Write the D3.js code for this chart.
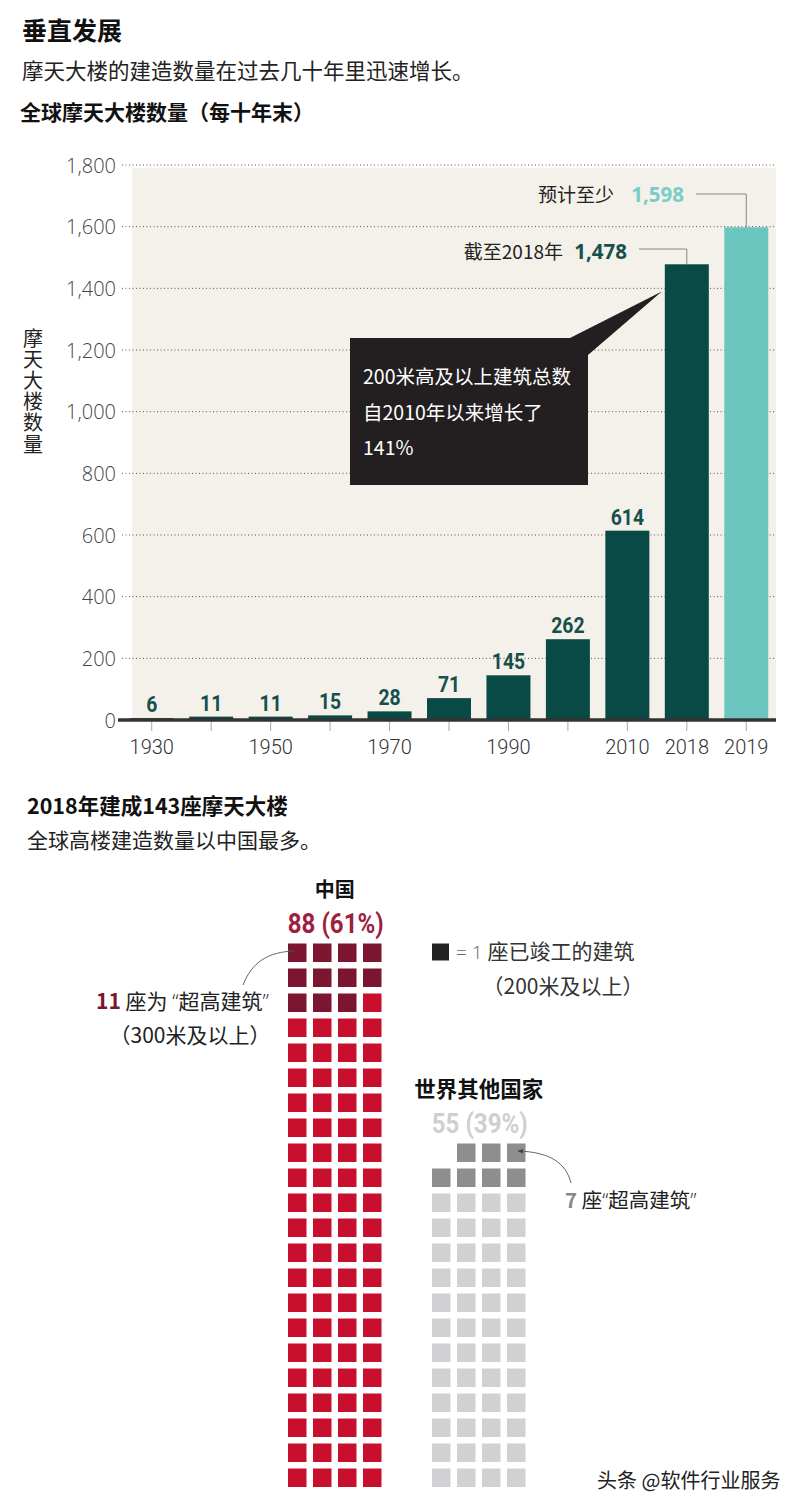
<!DOCTYPE html>
<html><head><meta charset="utf-8">
<script src="https://cdn.jsdelivr.net/npm/d3@7"></script>
<style>
body{margin:0;background:#fff;}
svg{display:block;}
</style>
</head><body>
<script>
// ---------- data ----------
const years = ["1930","1940","1950","1960","1970","1980","1990","2000","2010","2018","2019"];
const counts = [6,11,11,15,28,71,145,262,614,1478,1598];
const xTickLabels = ["1930","","1950","","1970","","1990","","2010","2018","2019"];
const yTicks = [0,200,400,600,800,1000,1200,1400,1600,1800];
const groups = ["中国","世界其他国家"];
const groupTotals = [88,55];
const groupSupertall = [11,7];
const groupShares = ["61%","39%"];

const W = 800, H = 1508;
const svg = d3.select("body").append("svg").attr("width", W).attr("height", H);
const F = "'Noto Sans CJK SC','Noto Sans',sans-serif";
const FN = "Roboto,'Noto Sans',sans-serif";
const FO = "'Open Sans','Noto Sans',sans-serif";

// helper for horizontally condensed text
function condText(parent, x, y, str, opts){
  const g = parent.append("g").attr("transform",`translate(${x},${y})`);
  return g.append("text").attr("transform",`scale(${opts.sx||0.85},1)`)
    .attr("text-anchor",opts.anchor||"middle").attr("font-family",FN)
    .attr("font-weight",opts.weight||700).attr("font-size",opts.size).attr("fill",opts.fill).text(str);
}

// ---------- titles ----------
svg.append("text").attr("x",22).attr("y",40).attr("font-family",F).attr("font-weight",700).attr("font-size",25).attr("fill","#111").text("垂直发展");
svg.append("text").attr("x",22).attr("y",79).attr("font-family",F).attr("font-size",21.5).attr("fill","#222").text("摩天大楼的建造数量在过去几十年里迅速增长。");
svg.append("text").attr("x",20).attr("y",120).attr("font-family",F).attr("font-weight",700).attr("font-size",21).attr("fill","#111").text("全球摩天大楼数量（每十年末）");

// ---------- bar chart ----------
const x = d3.scaleBand().domain(years).range([122,776]).paddingInner(0.26).paddingOuter(0.13);
const y = d3.scaleLinear().domain([0,1800]).range([720,165]);

svg.append("rect").attr("x",132).attr("y",y(1800)+3).attr("width",776-132).attr("height",y(0)-y(1800)-3).attr("fill","#f4f0ea");

// gridlines + y labels
const yAxis = d3.axisLeft(y).tickValues(yTicks).tickSize(0).tickPadding(0).tickFormat(d3.format(","));
const gy = svg.append("g").attr("transform","translate(116,0)").call(yAxis);
gy.select(".domain").remove();
gy.selectAll("text").attr("font-family",FO).attr("font-weight",300).attr("font-size",20).attr("fill","#444").attr("dy","0.36em");
svg.append("g").selectAll("line").data(yTicks.filter(d=>d>0)).join("line")
  .attr("x1",122).attr("x2",776).attr("y1",d=>y(d)).attr("y2",d=>y(d))
  .attr("stroke","#555").attr("stroke-width",1).attr("stroke-dasharray","1,2.5");

// y axis title (vertical)
svg.append("text").attr("x",33).attr("y",328).attr("writing-mode","vertical-rl")
  .attr("font-family",F).attr("font-size",20).attr("letter-spacing",1.2).attr("fill","#222").text("摩天大楼数量");

// bars
svg.append("g").selectAll("rect").data(years).join("rect")
  .attr("x",d=>x(d)).attr("width",x.bandwidth())
  .attr("y",(d,i)=>y(counts[i])).attr("height",(d,i)=>y(0)-y(counts[i]))
  .attr("fill",(d,i)=>d==="2019"?"#6cc6c0":"#0a4a46");

// value labels
const vl = svg.append("g");
years.slice(0,9).forEach((d,i)=>{
  condText(vl, x(d)+x.bandwidth()/2, y(counts[i])-6, counts[i], {size:22, sx:0.88, fill:"#16504c"});
});

// x axis
const xAxis = d3.axisBottom(x).tickSize(10).tickPadding(9).tickFormat((d,i)=>xTickLabels[i]);
const gx = svg.append("g").attr("transform","translate(0,721)").call(xAxis);
gx.select(".domain").remove();
gx.selectAll(".tick line").attr("stroke","#aaa");
gx.selectAll("text").attr("font-family",FN).attr("font-weight",300).attr("font-size",20).attr("fill","#333");
svg.append("line").attr("x1",118).attr("x2",776).attr("y1",y(0)).attr("y2",y(0)).attr("stroke","#333").attr("stroke-width",3.5);

// annotations 2019 / 2018
const cx = d => x(d)+x.bandwidth()/2;
svg.append("path").attr("d",`M696,194H${cx("2019")}V${y(1598)}`).attr("fill","none").attr("stroke","#888").attr("stroke-width",1);
svg.append("path").attr("d",`M639,249H${cx("2018")}V${y(1478)}`).attr("fill","none").attr("stroke","#888").attr("stroke-width",1);
svg.append("text").attr("x",614).attr("y",202).attr("text-anchor","end").attr("font-family",F).attr("font-size",19).attr("fill","#222").text("预计至少");
svg.append("text").attr("x",684).attr("y",202).attr("text-anchor","end").attr("font-family",FO).attr("font-weight",700).attr("font-size",20.5).attr("fill","#7accc6").text(d3.format(",")(counts[10]));
svg.append("text").attr("x",563).attr("y",259).attr("text-anchor","end").attr("font-family",F).attr("font-size",19).attr("fill","#222").text("截至2018年");
svg.append("text").attr("x",627).attr("y",259).attr("text-anchor","end").attr("font-family",FO).attr("font-weight",700).attr("font-size",20.5).attr("fill","#16504c").text(d3.format(",")(counts[9]));

// callout box
const tipX = x("2018")-3, tipY = y(1390);
svg.append("path").attr("d",`M350,338H570L${tipX},${tipY}L588,355V485H350Z`).attr("fill","#231f20");
const boxLines = ["200米高及以上建筑总数","自2010年以来增长了","141%"];
svg.append("g").selectAll("text").data(boxLines).join("text")
  .attr("x",363).attr("y",(d,i)=>384+i*35.5).attr("font-family",F).attr("font-size",19.5).attr("fill","#fff").text(d=>d);

// ---------- waffle section ----------
svg.append("text").attr("x",27).attr("y",814).attr("font-family",F).attr("font-weight",700).attr("font-size",21.5).attr("fill","#111").text("2018年建成143座摩天大楼");
svg.append("text").attr("x",27).attr("y",848).attr("font-family",F).attr("font-size",21).attr("fill","#222").text("全球高楼建造数量以中国最多。");

const cols = 4, step = 25, sq = 18.5, bottomRow = 1468.5;
const gridLeft = [288, 432];
const lightCol = ["#c8102e","#d1d1d3"];
const darkCol = ["#7c1530","#8e8e8e"];
groups.forEach((g,gi)=>{
  const n = groupTotals[gi];
  const rows = Math.ceil(n/cols);
  const offset = rows*cols - n; // empty cells at the left of the top row
  const cells = d3.range(n).map(i=>{
    const pos = i + offset;
    return {r: Math.floor(pos/cols), c: pos%cols, i};
  });
  const topY = bottomRow - (rows-1)*step;
  svg.append("g").selectAll("rect").data(cells).join("rect")
    .attr("x",d=>gridLeft[gi]+d.c*step).attr("y",d=>topY+d.r*step)
    .attr("width",sq).attr("height",sq)
    .attr("fill",d=>d.i<groupSupertall[gi]?darkCol[gi]:lightCol[gi]);
  const mid = gridLeft[gi] + (3*step+sq)/2;
  svg.append("text").attr("x",mid).attr("y",topY-47).attr("text-anchor","middle").attr("font-family",F).attr("font-weight",700).attr("font-size",gi===0?20:21.5).attr("fill","#111").text(g);
  condText(svg, mid+1, topY-11, `${n} (${groupShares[gi]})`, {size:28, sx:0.86, fill: gi===0?"#9e1f40":"#cfcfd1"});
});

// legend
svg.append("rect").attr("x",432).attr("y",943.5).attr("width",17).attr("height",17).attr("fill","#222");
svg.append("text").attr("x",456).attr("y",959).attr("font-family",F).attr("font-size",21).attr("fill","#333")
  .call(t=>{t.append("tspan").attr("fill","#666").attr("font-size",19).attr("font-family",FO).attr("font-weight",300).text("= 1 "); t.append("tspan").text("座已竣工的建筑");});
svg.append("text").attr("x",563).attr("y",994).attr("text-anchor","middle").attr("font-family",F).attr("font-size",21).attr("fill","#333").text("（200米及以上）");

// China supertall annotation
svg.append("text").attr("x",96).attr("y",1009).attr("font-family",F).attr("font-size",21).attr("fill","#222")
  .call(t=>{
    t.append("tspan").attr("font-weight",700).attr("fill","#7c1530").text(groupSupertall[0]);
    t.append("tspan").text(" 座为 ");
    t.append("tspan").attr("font-family",FO).attr("font-weight",300).text("“");
    t.append("tspan").text("超高建筑");
    t.append("tspan").attr("font-family",FO).attr("font-weight",300).text("”");
  });
svg.append("text").attr("x",190).attr("y",1043).attr("text-anchor","middle").attr("font-family",F).attr("font-size",21).attr("fill","#222").text("（300米及以上）");

svg.append("defs").append("marker").attr("id","ah").attr("viewBox","0 0 10 10").attr("refX",9).attr("refY",5)
  .attr("markerWidth",6).attr("markerHeight",6).attr("orient","auto")
  .append("path").attr("d","M0,1L10,5L0,9Z").attr("fill","#444");
svg.append("path").attr("d","M243,985 C252,962 268,952 294,951").attr("fill","none").attr("stroke","#666").attr("stroke-width",1).attr("marker-end","url(#ah)");
svg.append("path").attr("d","M571,1183 C566,1163 550,1152 518,1151").attr("fill","none").attr("stroke","#666").attr("stroke-width",1).attr("marker-end","url(#ah)");

svg.append("text").attr("x",565).attr("y",1208).attr("font-family",F).attr("font-size",20.5).attr("fill","#222")
  .call(t=>{
    t.append("tspan").attr("font-weight",700).attr("fill","#888").text(groupSupertall[1]);
    t.append("tspan").text(" 座");
    t.append("tspan").attr("font-family",FO).attr("font-weight",300).text("“");
    t.append("tspan").text("超高建筑");
    t.append("tspan").attr("font-family",FO).attr("font-weight",300).text("”");
  });

// watermark
svg.append("text").attr("x",597).attr("y",1488).attr("font-family",F).attr("font-size",20).attr("fill","#222")
  .attr("stroke","#fff").attr("stroke-width",3).attr("paint-order","stroke").text("头条 @软件行业服务");
</script>
</body></html>
